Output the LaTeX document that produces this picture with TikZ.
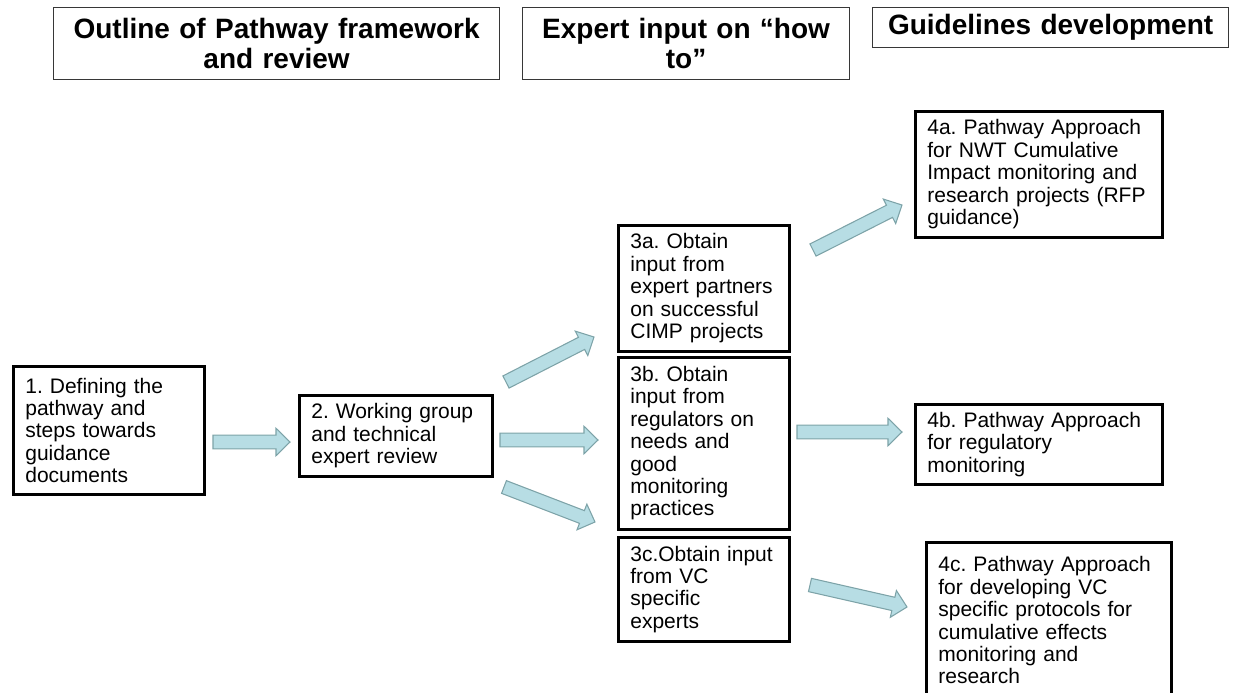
\documentclass[tikz,border=0pt]{standalone}
\usepackage{fontspec}
\setmainfont{Liberation Sans}
\usepackage{tikz}
\usetikzlibrary{calc}
\definecolor{arrowfill}{RGB}{183,221,228}
\definecolor{arrowline}{RGB}{125,163,168}
\definecolor{headline}{RGB}{55,55,55}
\frenchspacing

\begin{document}
\begin{tikzpicture}[x=0.75pt,y=-0.75pt]
	\clip (0,0) rectangle (1233,693);

	% column headings
	\begin{scope}[every node/.style={draw=headline, line width=0.9pt, anchor=north west,
	              align=center, inner sep=0pt, font=\fontsize{21}{22.5}\selectfont\bfseries}]
		\node[minimum width=334.5pt, minimum height=54pt, text width=324pt] (outline) at (53,7) {Outline of Pathway framework\\and review};
		\node[minimum width=245.25pt, minimum height=54pt, text width=236pt] (expert) at (522,7) {Expert input on “how\\to”};
		\node[minimum width=267pt, minimum height=30pt, text width=258pt] (guide) at (872,7) {Guidelines development};
	\end{scope}

	% steps
	\begin{scope}[every node/.style={draw=black, line width=2pt, anchor=north west,
	              align=left, inner xsep=9pt, inner ysep=0pt, font=\fontsize{15.75}{16.8}\selectfont}]
		\node[minimum width=143.25pt, minimum height=96pt, text width=125.25pt] (define) at (12,365) {1. Defining the\\pathway and\\steps towards\\guidance\\documents};
		\node[minimum width=144.75pt, minimum height=60.75pt, text width=126.75pt] (review) at (298,394) {2. Working group\\and technical\\expert review};
		\node[minimum width=128.25pt, minimum height=94.5pt, text width=110.25pt] (partners) at (617,224) {3a. Obtain\\input from\\expert partners\\on successful\\CIMP projects};
		\node[minimum width=128.25pt, minimum height=129pt, text width=110.25pt] (regulators) at (617,356) {3b. Obtain\\input from\\regulators on\\needs and\\good\\monitoring\\practices};
		\node[minimum width=128.25pt, minimum height=78pt, text width=110.25pt] (vcexperts) at (617,536) {3c.Obtain input\\from VC\\specific\\experts};
		\node[minimum width=185.25pt, minimum height=94.5pt, text width=167.25pt] (rfp) at (914,110) {4a. Pathway Approach\\for NWT Cumulative\\Impact monitoring and\\research projects (RFP\\guidance)};
		\node[minimum width=185.25pt, minimum height=60pt, text width=167.25pt] (regmon) at (914,403) {4b. Pathway Approach\\for regulatory\\monitoring};
		\node[minimum width=183.75pt, minimum height=117pt, text width=165.75pt] (vcproto) at (925,541) {4c. Pathway Approach\\for developing VC\\specific protocols for\\cumulative effects\\monitoring and\\research};
	\end{scope}

	% block arrows
	\coordinate (t1) at (213,442);  \coordinate (h1) at (290,442);
	\coordinate (t2) at (506,382);  \coordinate (h2) at (594,337);
	\coordinate (t3) at (500,440);  \coordinate (h3) at (598,440);
	\coordinate (t4) at (504,487);  \coordinate (h4) at (595,522);
	\coordinate (t5) at (813,250);  \coordinate (h5) at (902,205);
	\coordinate (t6) at (797,432);  \coordinate (h6) at (902,432);
	\coordinate (t7) at (810,585);  \coordinate (h7) at (907,607);
	\foreach \s/\e in {t1/h1, t2/h2, t3/h3, t4/h4, t5/h5, t6/h6, t7/h7} {
		\coordinate (hb) at ($(\e)!10.5pt!(\s)$);
		\draw[arrowline, fill=arrowfill, line width=0.8pt]
			($(\s)!5.1pt!90:(\e)$) -- ($(hb)!5.1pt!90:(\e)$) -- ($(hb)!10.3pt!90:(\e)$)
			-- (\e) -- ($(hb)!10.3pt!-90:(\e)$) -- ($(hb)!5.1pt!-90:(\e)$)
			-- ($(\s)!5.1pt!-90:(\e)$) -- cycle;
	}
\end{tikzpicture}
\end{document}
